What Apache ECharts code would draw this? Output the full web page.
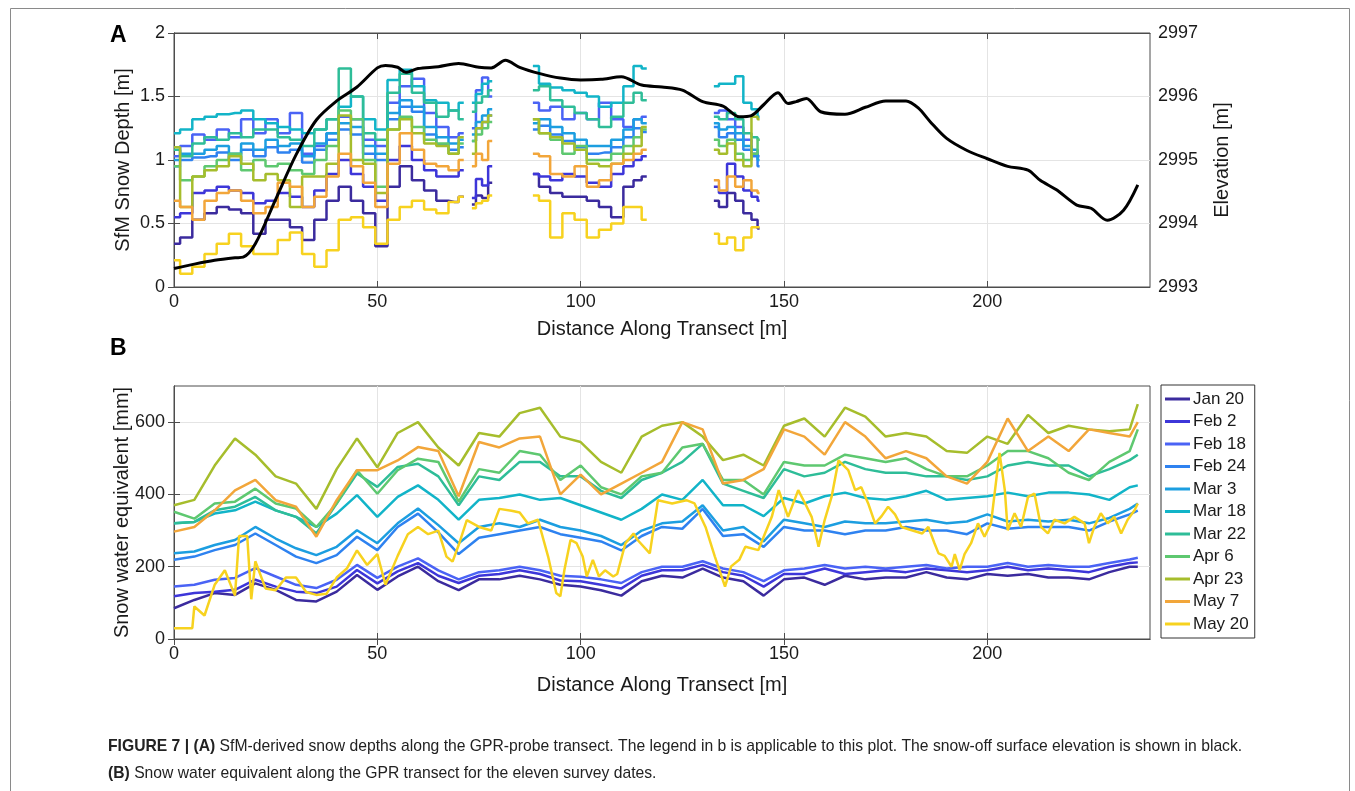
<!DOCTYPE html>
<html>
<head>
<meta charset="utf-8">
<title>Figure 7</title>
<script src="https://cdn.jsdelivr.net/npm/echarts@6.0.0/dist/echarts.min.js"></script>
<style>
  html, body { margin: 0; padding: 0; background: #fff; }
  #chart { width: 1355px; height: 791px; }
</style>
</head>
<body>
<div id="chart"></div>
<script>
// survey dates (legend) and their colours
const surveyDates = ['Jan 20', 'Feb 2', 'Feb 18', 'Feb 24', 'Mar 3', 'Mar 18', 'Mar 22', 'Apr 6', 'Apr 23', 'May 7', 'May 20'];
const dateColors = ['#3b2b9e', '#3d36d9', '#4a63f5', '#2e82f0', '#1c9ee0', '#12b4c8', '#2ebd98', '#5ec870', '#a6bd2c', '#f2a63a', '#f7d21f'];

// tick labels
const distTicks = [0, 50, 100, 150, 200];
const depthTicks = [0, 0.5, 1, 1.5, 2];
const elevTicks = [2993, 2994, 2995, 2996, 2997];
const sweTicks = [0, 200, 400, 600];

// panel A: distance of the snow-depth samples (the null pairs cut the line into its four stretches)
const distDepth = [0,3,6,9,12,15,18,21,24,27,30,33,36,39,42,45,48,51,54,57,60,63,66,69,71, 71.5,73, 73.5,75,76.5,78, 78.5,88, 88.5,91,94,97,100,103,106,109,112,114,116, 116.5,132.5, 133,135,137,139,141,143,144];
const depthJan20 = [0.34,0.39,0.53,0.58,0.63,0.61,0.58,0.42,0.53,0.53,0.47,0.37,0.53,0.68,0.79,0.68,0.58,0.32,0.79,0.95,0.84,0.76,0.68,0.67,0.71, null,null, 0.65,0.72,0.7,0.82, null,null, 0.89,0.79,0.74,0.71,0.71,0.68,0.63,0.55,0.79,0.84,0.87, null,null, 0.68,0.63,0.74,0.68,0.58,0.53,0.46];
const depthFeb2 = [0.55,0.58,0.74,0.76,0.79,0.76,0.74,0.66,0.68,0.74,0.71,0.63,0.76,0.89,1.0,0.89,0.79,0.68,1.0,1.11,1.0,0.92,0.87,0.87,0.92, null,null, 0.7,0.85,0.8,0.95, null,null, 0.89,0.87,0.84,0.89,0.87,0.82,0.79,0.89,0.95,1.0,1.03, null,null, 0.79,0.74,0.97,0.87,0.76,0.71,0.68];
const depthFeb18 = [1.03,1.11,1.2,1.16,1.24,1.18,1.32,1.21,1.32,1.21,1.37,1.05,1.11,1.21,1.34,1.32,1.16,1.11,1.45,1.58,1.64,1.37,1.26,1.18,1.21, null,null, 1.25,1.55,1.65,1.5, null,null, 1.45,1.39,1.42,1.32,1.37,1.32,1.45,1.32,1.26,1.32,1.34, null,null, 1.37,1.39,1.32,1.26,1.16,1.05,1.03];
const depthFeb24 = [0.95,1.0,1.02,1.03,1.06,1.0,1.08,1.03,1.1,1.06,1.08,0.98,1.08,1.16,1.24,1.2,1.05,1.0,1.32,1.42,1.38,1.2,1.12,1.08,1.1, null,null, 1.15,1.25,1.3,1.35, null,null, 1.24,1.27,1.2,1.15,1.1,1.05,1.06,1.1,1.18,1.25,1.22, null,null, 1.26,1.18,1.21,1.16,1.08,1.03,0.95];
const depthMar3 = [1.0,1.05,1.05,1.08,1.11,1.05,1.13,1.08,1.16,1.11,1.13,1.03,1.13,1.21,1.29,1.26,1.11,1.05,1.37,1.47,1.42,1.26,1.18,1.13,1.16, null,null, 1.2,1.3,1.35,1.4, null,null, 1.29,1.32,1.26,1.21,1.16,1.11,1.11,1.16,1.24,1.32,1.29, null,null, 1.29,1.24,1.26,1.21,1.11,1.08,1.0];
const depthMar18 = [1.21,1.24,1.32,1.34,1.36,1.37,1.39,1.32,1.29,1.26,1.24,1.21,1.24,1.32,1.42,1.5,1.32,1.24,1.63,1.71,1.58,1.47,1.45,1.39,1.45, null,null, 1.45,1.52,1.6,1.62, null,null, 1.74,1.6,1.57,1.55,1.53,1.5,1.42,1.45,1.58,1.74,1.72, null,null, 1.58,1.6,1.6,1.66,1.45,1.4,1.34];
const depthMar22 = [1.08,1.03,1.13,1.18,1.16,1.21,1.18,1.24,1.24,1.18,1.16,1.11,1.24,1.32,1.72,1.5,1.21,1.16,1.53,1.68,1.53,1.45,1.34,1.39,1.32, null,null, 1.38,1.45,1.5,1.55, null,null, 1.55,1.58,1.47,1.42,1.37,1.32,1.26,1.34,1.45,1.53,1.47, null,null, 1.34,1.32,1.37,1.32,1.21,1.18,1.16];
const depthApr6 = [0.95,0.84,0.87,0.95,1.0,1.05,0.92,1.0,0.95,0.97,0.92,0.89,1.0,1.11,1.39,1.32,1.0,0.79,1.24,1.34,1.26,1.16,1.13,1.05,1.13, null,null, 1.15,1.2,1.25,1.3, null,null, 1.32,1.21,1.16,1.05,1.11,1.0,1.0,1.05,1.11,1.18,1.24, null,null, 1.16,1.11,1.16,1.05,1.0,1.05,1.16];
const depthApr23 = [1.1,0.63,0.87,0.92,0.95,1.03,0.97,0.84,0.89,0.84,0.63,0.87,0.87,0.97,1.35,1.0,0.97,0.74,1.24,1.32,1.21,1.13,1.11,1.05,1.18, null,null, 1.05,1.25,1.3,1.35, null,null, 1.32,1.21,1.18,1.13,1.08,0.97,0.95,0.97,1.05,1.11,1.26, null,null, 1.08,1.05,1.13,1.0,0.95,1.34,1.32];
const depthMay7 = [0.68,0.63,0.53,0.68,0.74,0.76,0.68,0.58,0.63,0.82,0.79,0.63,0.71,0.87,1.05,0.95,0.82,0.63,0.97,1.21,1.08,0.97,0.95,0.92,1.0, null,null, 0.95,1.05,1.0,1.15, null,null, 1.05,1.03,0.89,0.87,0.95,0.79,0.84,0.97,1.0,1.05,1.08, null,null, 0.84,0.76,0.87,0.79,0.84,0.76,0.74];
const depthMay20 = [0.21,0.105,0.16,0.26,0.34,0.42,0.32,0.26,0.26,0.37,0.43,0.26,0.16,0.29,0.53,0.55,0.47,0.34,0.53,0.63,0.68,0.61,0.58,0.67,0.71, null,null, 0.62,0.66,0.68,0.72, null,null, 0.72,0.68,0.39,0.58,0.53,0.39,0.45,0.5,0.63,0.63,0.53, null,null, 0.42,0.34,0.39,0.29,0.39,0.47,0.47];

// panel A: snow-off surface elevation (black line)
const distElev = [0,5,10,15,17,20,25,30,35,40,45,50,52,55,57,60,65,70,75,78,81.5,85,90,95,100,105,110,115,120,125,130,135,139,142,145,148.5,151,153,155.5,159,165,170,175,180,183,186,190,195,200,205,210,213,217,222,225.5,229.5,233.5,237];
const elevation = [2993.29,2993.36,2993.42,2993.46,2993.47,2993.68,2994.38,2995.08,2995.63,2995.93,2996.15,2996.45,2996.49,2996.46,2996.38,2996.44,2996.47,2996.52,2996.46,2996.45,2996.57,2996.46,2996.36,2996.29,2996.26,2996.27,2996.31,2996.18,2996.15,2996.10,2995.92,2995.85,2995.68,2995.70,2995.87,2996.06,2995.89,2995.92,2995.97,2995.76,2995.72,2995.83,2995.93,2995.93,2995.82,2995.60,2995.34,2995.15,2995.02,2994.90,2994.84,2994.68,2994.53,2994.29,2994.24,2994.05,2994.21,2994.61];

// panel B: snow water equivalent [mm]
const distSwe = [0,5,10,15,20,25,30,35,40,45,50,55,60,65,70,75,80,85,90,95,100,105,110,115,120,125,130,135,140,145,150,155,160,165,170,175,180,185,190,195,200,205,210,215,220,225,230,235,237];
const sweJan20 = [85,108,127,122,154,136,108,104,131,177,136,173,200,160,135,165,165,175,165,150,145,135,120,160,175,170,195,170,160,120,165,170,150,175,165,170,170,185,170,165,180,175,180,170,170,165,185,200,200];
const sweFeb2 = [118,127,131,136,164,145,131,127,145,191,154,187,210,175,155,175,180,190,180,162,160,150,140,175,190,190,205,185,175,145,180,180,195,180,185,190,185,195,190,185,190,200,190,195,190,185,200,210,212];
const sweFeb18 = [145,150,164,169,196,173,150,141,164,205,169,200,223,190,165,185,190,200,190,175,172,165,155,185,200,200,215,195,185,160,190,195,205,195,200,195,200,205,195,200,200,210,200,205,200,200,210,220,225];
const sweFeb24 = [219,228,246,260,292,260,228,210,232,283,246,310,347,295,235,280,290,300,310,290,280,270,245,285,310,305,360,285,290,255,310,300,300,290,300,300,310,300,300,290,320,305,310,310,310,300,325,345,355];
const sweMar3 = [237,242,260,274,310,278,251,232,255,301,265,320,361,315,265,310,320,310,330,310,300,285,260,300,320,325,370,300,310,270,330,320,310,325,320,320,325,330,320,325,345,325,330,325,330,320,335,360,375];
const sweMar18 = [320,324,347,356,380,356,338,310,347,398,338,393,425,385,330,385,390,400,385,390,370,350,330,360,400,385,440,370,370,340,390,375,395,405,390,385,395,410,385,390,395,405,395,405,405,400,385,420,425];
const sweMar22 = [320,324,356,366,393,356,338,292,375,458,421,476,485,450,370,450,440,490,490,450,450,410,390,440,460,490,540,430,410,390,470,450,460,490,470,460,460,450,450,440,450,480,490,480,480,450,470,495,510];
const sweApr6 = [352,333,375,380,416,375,361,310,375,467,402,467,499,490,380,470,460,520,510,440,480,420,400,450,460,530,540,440,440,400,490,480,480,510,500,490,500,470,450,450,480,520,520,500,460,440,490,520,580];
const sweApr23 = [370,385,480,555,510,450,430,360,470,555,475,570,600,530,480,570,560,625,640,560,545,490,460,560,590,600,560,495,510,480,590,610,560,640,615,560,570,560,520,515,560,540,620,570,590,580,575,580,650];
const sweMay7 = [297,310,356,411,440,384,366,283,384,467,467,494,531,520,395,545,530,555,560,400,455,400,430,460,490,600,580,430,440,470,580,560,510,600,560,500,520,500,450,430,490,610,520,560,520,580,570,560,600];
// May 20 is spiky, so it keeps its own, finer distances
const distMay20 = [
  0,4.5,5,7.5,10,12.5,15,16,18,19,
  20,22.5,25,27.5,30,32.5,35,37.5,40,42.5,
  45,47.5,50,52,55,57.5,60,62.5,65,67,
  68.5,70,72,75,78,80,83,85,87,89.5,
  92,94,95,96,97.5,99,100.5,101.5,103,104.5,
  106,108,109,111,113,114,117,119,122.5,126,
  128,130.7,133,135.5,137,139,140.5,143.7,145,147,
  148.7,151,153.5,155.2,156.8,158.5,160,161.7,163.4,165.8,
  167.5,169,170.7,172.4,174,175.6,177.3,178.9,181.4,184,
  185.5,187,188,189.5,191.2,192,193.2,194.4,196,197.7,
  199.3,200.9,203,204.3,205,206.7,208.3,210,211.6,213.2,
  214.9,216.5,219,221.4,223.9,225,226.3,227.9,229.6,231.2,
  232.9,234.5,236.2,237];
const sweMay20 = [
  30,30,90,65,150,190,120,285,285,110,
  215,140,135,170,170,130,122,125,170,195,
  245,205,235,150,230,290,310,290,300,228,
  214,260,329,310,300,360,355,350,320,330,
  228,127,118,191,274,265,228,173,219,173,
  190,173,180,265,292,274,237,384,375,384,
  375,310,228,145,201,219,255,246,283,338,
  412,338,412,375,338,255,329,393,494,467,
  412,420,375,320,340,366,345,310,301,292,
  310,265,237,230,200,235,191,235,265,320,
  283,320,515,412,301,348,310,393,402,310,
  292,330,320,338,320,265,310,348,320,338,
  292,330,356,375];

const depthSets = [depthJan20, depthFeb2, depthFeb18, depthFeb24, depthMar3, depthMar18, depthMar22, depthApr6, depthApr23, depthMay7, depthMay20];
const sweSets = [sweJan20, sweFeb2, sweFeb18, sweFeb24, sweMar3, sweMar18, sweMar22, sweApr6, sweApr23, sweMay7, sweMay20];

// zip x and y lists into [x, y] pairs
function pairs(xs, ys) {
  return xs.map((x, i) => [x, ys[i]]);
}

const FONT = 'Liberation Sans, Arial, Helvetica, sans-serif';
const AXIS_COLOR = '#4d4d4d';
const TEXT_COLOR = '#1a1a1a';
const GRID_COLOR = '#e4e4e4';

// shared axis pieces
function tickStyle(values) {
  return { show: true, inside: true, length: 6, customValues: values, lineStyle: { color: AXIS_COLOR } };
}
function xAxisBase(gridIndex, nameGap) {
  return {
    type: 'value', gridIndex: gridIndex, min: 0, max: 240, interval: 50, position: 'bottom',
    axisLine: { show: true, lineStyle: { color: AXIS_COLOR } },
    axisTick: tickStyle(distTicks),
    axisLabel: { fontSize: 18, color: TEXT_COLOR, fontFamily: FONT, margin: 6, customValues: distTicks,
      formatter: v => String(v) },
    splitLine: { show: true, lineStyle: { color: GRID_COLOR } },
    name: 'Distance Along Transect [m]',
    nameLocation: 'middle', nameGap: nameGap, nameMoveOverlap: false,
    nameTextStyle: { fontSize: 20, color: TEXT_COLOR, fontFamily: FONT }
  };
}
function xAxisTop(gridIndex) {
  return {
    type: 'value', gridIndex: gridIndex, min: 0, max: 240, interval: 50, position: 'top',
    axisLine: { show: true, lineStyle: { color: AXIS_COLOR } },
    axisTick: tickStyle(distTicks),
    axisLabel: { show: false }, splitLine: { show: false }
  };
}

const series = [];
// panel A snow depths, drawn as stairs
depthSets.forEach((d, i) => {
  series.push({
    name: surveyDates[i], type: 'line', xAxisIndex: 0, yAxisIndex: 0,
    data: pairs(distDepth, d), step: 'middle', showSymbol: false, symbol: 'none',
    lineStyle: { width: 2.5, color: dateColors[i] }, itemStyle: { color: dateColors[i] },
    connectNulls: false, silent: true
  });
});
// panel A elevation
series.push({
  name: 'Elevation', type: 'line', xAxisIndex: 0, yAxisIndex: 1,
  data: pairs(distElev, elevation), showSymbol: false, symbol: 'none', smooth: 0.3,
  lineStyle: { width: 3, color: '#000' }, itemStyle: { color: '#000' }, z: 5, silent: true
});
// panel B SWE
sweSets.forEach((d, i) => {
  const xs = i === 10 ? distMay20 : distSwe;
  series.push({
    name: surveyDates[i], type: 'line', xAxisIndex: 2, yAxisIndex: 2,
    data: pairs(xs, d), showSymbol: false, symbol: 'none',
    lineStyle: { width: 2.5, color: dateColors[i] }, itemStyle: { color: dateColors[i] }, silent: true
  });
});

const chart = echarts.init(document.getElementById('chart'), null, { renderer: 'canvas' });
chart.setOption({
  animation: false,
  backgroundColor: '#fff',
  textStyle: { fontFamily: FONT },
  grid: [
    { left: 174, top: 33, width: 976, height: 254, show: true, borderColor: AXIS_COLOR, borderWidth: 1 },
    { left: 174, top: 386, width: 976, height: 253, show: true, borderColor: AXIS_COLOR, borderWidth: 1 }
  ],
  xAxis: [xAxisBase(0, 32), xAxisTop(0), xAxisBase(1, 36), xAxisTop(1)],
  yAxis: [
    {
      type: 'value', gridIndex: 0, min: 0, max: 2, interval: 0.5, position: 'left',
      axisLine: { show: true, lineStyle: { color: AXIS_COLOR } },
      axisTick: tickStyle(depthTicks),
      axisLabel: { fontSize: 18, color: TEXT_COLOR, margin: 9, customValues: depthTicks, formatter: v => String(v) },
      splitLine: { show: true, lineStyle: { color: GRID_COLOR } },
      name: 'SfM Snow Depth [m]', nameLocation: 'middle', nameGap: 41, nameRotate: 90, nameMoveOverlap: false,
      nameTextStyle: { fontSize: 20, color: TEXT_COLOR }
    },
    {
      type: 'value', gridIndex: 0, min: 2993, max: 2997, interval: 1, position: 'right',
      axisLine: { show: true, lineStyle: { color: AXIS_COLOR } },
      axisTick: tickStyle(elevTicks),
      axisLabel: { fontSize: 18, color: TEXT_COLOR, margin: 8, customValues: elevTicks, formatter: v => String(v) },
      splitLine: { show: false },
      name: 'Elevation [m]', nameLocation: 'middle', nameGap: 62, nameRotate: 90, nameMoveOverlap: false,
      nameTextStyle: { fontSize: 20, color: TEXT_COLOR }
    },
    {
      type: 'value', gridIndex: 1, min: 0, max: 700, interval: 200, position: 'left',
      axisLine: { show: true, lineStyle: { color: AXIS_COLOR } },
      axisTick: tickStyle(sweTicks),
      axisLabel: { fontSize: 18, color: TEXT_COLOR, margin: 9, customValues: sweTicks, formatter: v => String(v) },
      splitLine: { show: true, lineStyle: { color: GRID_COLOR } },
      name: 'Snow water equivalent [mm]', nameLocation: 'middle', nameGap: 42, nameRotate: 90, nameMoveOverlap: false,
      nameTextStyle: { fontSize: 20, color: TEXT_COLOR }
    },
    {
      type: 'value', gridIndex: 1, min: 0, max: 700, interval: 200, position: 'right',
      axisLine: { show: true, lineStyle: { color: AXIS_COLOR } },
      axisTick: tickStyle(sweTicks),
      axisLabel: { show: false }, splitLine: { show: false }
    }
  ],
  legend: {
    data: surveyDates, orient: 'vertical', left: 1161, top: 385,
    icon: 'rect', itemWidth: 25, itemHeight: 3, itemGap: 4.5,
    backgroundColor: '#fff', borderColor: '#333', borderWidth: 1, padding: [5, 6, 5, 4],
    textStyle: { fontSize: 17, color: TEXT_COLOR, lineHeight: 18, padding: [0, 0, 0, -2] },
    selectedMode: false
  },
  graphic: [
    // frame round the figure
    { type: 'rect', shape: { x: 10.5, y: 8.5, width: 1339, height: 800 },
      style: { fill: 'none', stroke: '#8a8a8a', lineWidth: 1 }, silent: true },
    { type: 'text', left: 110, top: 24,
      style: { text: 'A', fontSize: 23, fontWeight: 'bold', fill: '#000', fontFamily: FONT } },
    { type: 'text', left: 110, top: 337,
      style: { text: 'B', fontSize: 23, fontWeight: 'bold', fill: '#000', fontFamily: FONT } },
    { type: 'text', left: 108, top: 739,
      style: {
        text: '{b|FIGURE 7 | (A)} SfM-derived snow depths along the GPR-probe transect. The legend in b is applicable to this plot. The snow-off surface elevation is shown in black.',
        fontSize: 15.7, fill: '#222', fontFamily: FONT,
        rich: { b: { fontWeight: 'bold', fontSize: 15.7, fill: '#222', fontFamily: FONT } }
      } },
    { type: 'text', left: 108, top: 766,
      style: {
        text: '{b|(B)} Snow water equivalent along the GPR transect for the eleven survey dates.',
        fontSize: 15.7, fill: '#222', fontFamily: FONT,
        rich: { b: { fontWeight: 'bold', fontSize: 15.7, fill: '#222', fontFamily: FONT } }
      } }
  ],
  series: series
});
</script>
</body>
</html>
